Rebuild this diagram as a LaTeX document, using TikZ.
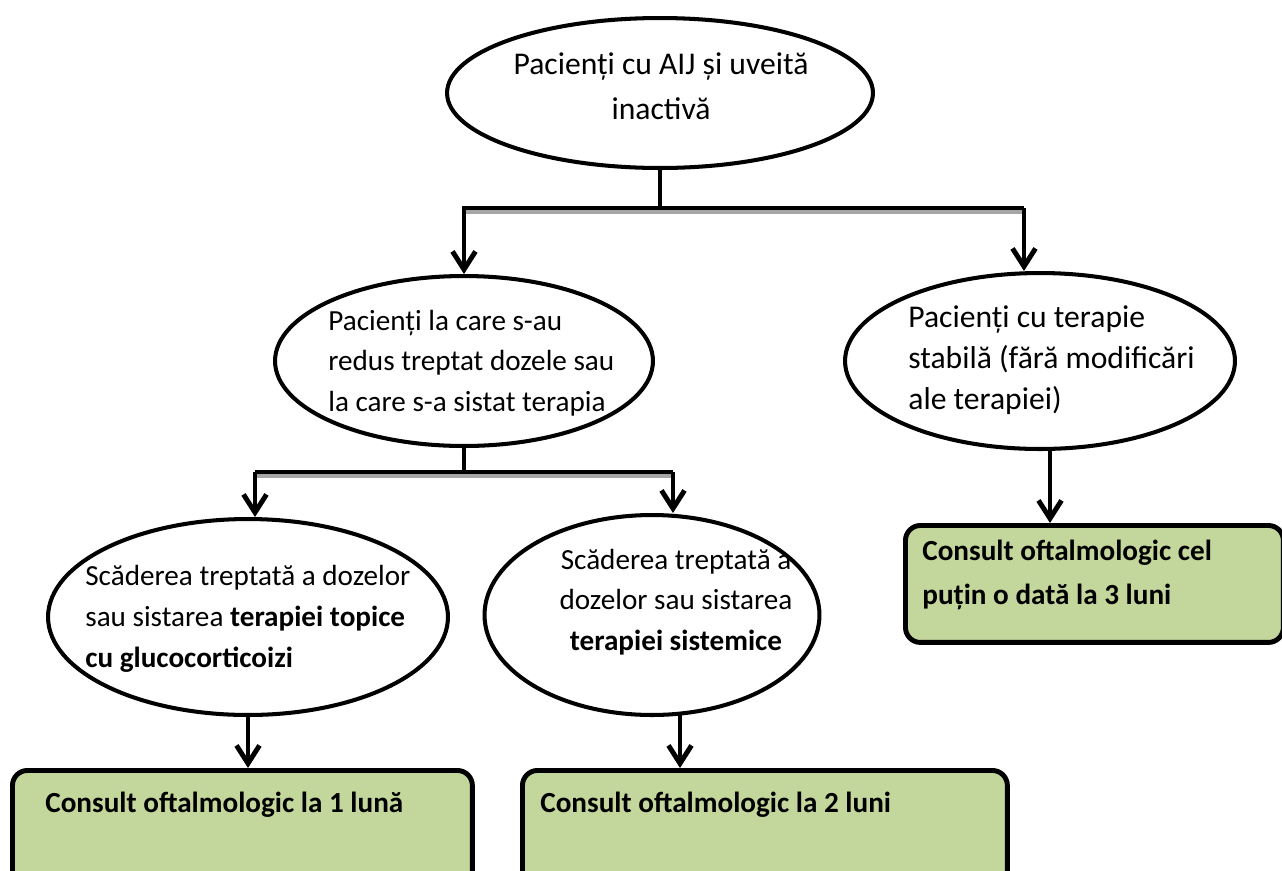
\documentclass[tikz,border=0pt]{standalone}
\usepackage{fontspec}
\setmainfont{Carlito}
\usepackage{xcolor}
\usetikzlibrary{shapes.geometric,arrows.meta,positioning,calc}
\definecolor{boxgreen}{HTML}{C3D69B}

\begin{document}
\begin{tikzpicture}[
        x=0.02cm, y=-0.02cm,
        oval/.style={ellipse, draw, line width=2.3pt, inner sep=0pt},
        txt/.style={inner sep=0pt, align=left, font=\fontsize{16.6}{23.2}\selectfont},
        bigtxt/.style={inner sep=0pt, align=left, font=\fontsize{18}{23.2}\selectfont},
        boldtxt/.style={inner sep=0pt, align=left, font=\fontsize{16.6}{25}\selectfont\bfseries},
        check/.style={rectangle, rounded corners=0.3cm, draw, line width=2.8pt, fill=boxgreen, anchor=north west, inner sep=0pt},
        conn/.style={line width=2.8pt},
        arrow/.style={line width=2.8pt, -{Straight Barb[length=0.36cm, width=0.46cm]}},
        shade/.style={line width=2.8pt, gray!70}
    ]
        \useasboundingbox (0,0) rectangle (1282,870);
        \clip (0,0) rectangle (1282,870);

        % ellipses
        \node[oval, minimum width=8.52cm, minimum height=3.0cm] (inactive) at (660,93) {};
        \node[oval, minimum width=7.56cm, minimum height=3.4cm] (reduced) at (464,361) {};
        \node[oval, minimum width=7.8cm, minimum height=3.52cm] (stable) at (1040,361) {};
        \node[oval, minimum width=8.0cm, minimum height=3.92cm] (topical) at (248,617) {};
        \node[oval, minimum width=6.7cm, minimum height=4.0cm] (systemic) at (652,615) {};

        % result boxes
        \node[check, minimum width=9.2cm, minimum height=2.5cm] (check1) at (10,768) {};
        \node[check, minimum width=9.7cm, minimum height=2.5cm] (check2) at (520,768) {};
        \node[check, minimum width=7.56cm, minimum height=2.34cm] (check3) at (903,523) {};

        % texts
        \node[bigtxt, align=center, font=\fontsize{18}{25.5}\selectfont] (inactiveTxt) at (661,86) {Pacienți cu AIJ și uveită\\inactivă};
        \node[txt, anchor=west] (reducedTxt) at (328,363) {Pacienți la care s-au\\redus treptat dozele sau\\la care s-a sistat terapia};
        \node[bigtxt, anchor=west] (stableTxt) at (908,360) {Pacienți cu terapie\\stabilă (fără modificări\\ale terapiei)};
        \node[txt, anchor=west] (topicalTxt) at (85,619) {Scăderea treptată a dozelor\\sau sistarea \textbf{terapiei topice}\\\textbf{cu glucocorticoizi}};
        \node[txt, align=center] (systemicTxt) at (676,602) {Scăderea treptată a\\dozelor sau sistarea\\\textbf{terapiei sistemice}};
        \node[boldtxt, anchor=west] (check1Txt) at (45,805) {Consult oftalmologic la 1 lună};
        \node[boldtxt, anchor=west] (check2Txt) at (540,805) {Consult oftalmologic la 2 luni};
        \node[boldtxt, anchor=west] (check3Txt) at (922,575) {Consult oftalmologic cel\\puțin o dată la 3 luni};

        % first split
        \coordinate (split1) at (660,208);
        \coordinate (bar1L) at (split1 -| reduced);
        \coordinate (bar1R) at (1024,208);
        \draw[shade] ([yshift=-0.07cm]bar1L) -- ([yshift=-0.07cm]bar1R);
        \draw[conn] (inactive) -- (split1);
        \draw[arrow] (split1) -| (reduced);
        \draw[conn] (split1) -- (bar1R);
        \draw[arrow] (bar1R) -- (bar1R |- stable.north);

        % second split
        \coordinate (split2) at (464,472);
        \coordinate (bar2L) at (255,472);
        \coordinate (bar2R) at (673,472);
        \draw[shade] ([yshift=-0.07cm]bar2L) -- ([yshift=-0.07cm]bar2R);
        \draw[conn] (reduced) -- (split2);
        \draw[conn] (bar2L) -- (bar2R);
        \draw[arrow] (bar2L) -- (bar2L |- topical.north);
        \draw[arrow] (bar2R) -- (bar2R |- systemic.north);

        % to the consults
        \coordinate (stableOut) at (1050,449);
        \coordinate (systemicOut) at (680,714);
        \draw[arrow] (stableOut) -- (stableOut |- check3.north);
        \draw[arrow] (topical.south) -- (topical.south |- check1.north);
        \draw[arrow] (systemicOut) -- (systemicOut |- check2.north);
    \end{tikzpicture}
\end{document}
